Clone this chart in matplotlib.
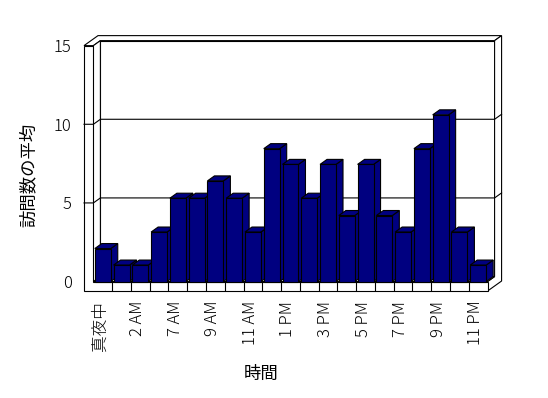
import matplotlib
matplotlib.use("Agg")
import matplotlib.pyplot as plt
from matplotlib.patches import Polygon
from matplotlib.transforms import ScaledTranslation

plt.rcParams['font.family'] = ['Noto Sans CJK JP', 'DejaVu Sans']
plt.rcParams['font.weight'] = 'light'

# data
hours = ['真夜中', '1 AM', '2 AM', '6 AM', '7 AM', '8 AM', '9 AM', '10 AM',
         '11 AM', '12 PM', '1 PM', '2 PM', '3 PM', '4 PM', '5 PM', '6 PM',
         '7 PM', '8 PM', '9 PM', '10 PM', '11 PM']
visits = [2.1, 1.05, 1.05, 3.15, 5.3, 5.3, 6.4, 5.3, 3.15, 8.45, 7.45, 5.3,
          7.45, 4.2, 7.45, 4.2, 3.15, 8.45, 10.6, 3.15, 1.05]
yticks = [0, 5, 10, 15]

NAVY = '#000080'
DX, DY = 0.373, 0.318      # depth offset of one "row", in data units
YMAX = 15
FLOOR = -0.6
LW = 0.8

n = len(hours)
xs = list(range(n))
right = n - 0.5


def proj(x, y, z):
    return (x + z * DX, y + z * DY)


def face(ax, pts, fc='white', z=1):
    ax.add_patch(Polygon([proj(*p) for p in pts], closed=True, fc=fc,
                         ec='black', lw=LW, zorder=z, clip_on=False,
                         joinstyle='miter'))


fig = plt.figure(figsize=(5.48, 3.98), dpi=100)
ax = fig.add_axes([0.1533, 0.2688, 0.762, 0.6417])
ax.set_xlim(-1, right + 2 * DX)
ax.set_ylim(FLOOR, YMAX + 2 * DY)

# back wall, front face (depth 1)
face(ax, [(-0.5, 0, 1), (right, 0, 1), (right, YMAX, 1), (-0.5, YMAX, 1)])
# top of walls
face(ax, [(-1, YMAX, 0), (-0.5, YMAX, 0), (-0.5, YMAX, 1), (right, YMAX, 1),
          (right, YMAX, 2), (-1, YMAX, 2)])
# right side of back wall + floor
face(ax, [(right, FLOOR, 0), (right, 0, 0), (right, 0, 1), (right, YMAX, 1),
          (right, YMAX, 2), (right, FLOOR, 2)])
# inner face of left wall
face(ax, [(-0.5, 0, 0), (-0.5, 0, 1), (-0.5, YMAX, 1), (-0.5, YMAX, 0)])
# floor top
face(ax, [(-0.5, 0, 0), (right, 0, 0), (right, 0, 1), (-0.5, 0, 1)])
# front of left wall + floor
face(ax, [(-1, FLOOR, 0), (right, FLOOR, 0), (right, 0, 0), (-0.5, 0, 0),
          (-0.5, YMAX, 0), (-1, YMAX, 0)])

# gridlines and ticks on the walls
for v in yticks[1:-1]:
    pts = [proj(-1, v, 0), proj(-0.5, v, 0), proj(-0.5, v, 1), proj(right, v, 1),
           proj(right, v, 2)]
    ax.plot([p[0] for p in pts], [p[1] for p in pts], color='black', lw=LW,
            zorder=2, clip_on=False)

# category dividers on floor front
for i in range(n - 1):
    ax.plot([i + 0.5, i + 0.5], [FLOOR, 0], color='black', lw=LW, zorder=2)

# bars
w = 0.85
for x, v in zip(xs, visits):
    x0, x1 = x - w / 2, x + w / 2
    face(ax, [(x1, 0, 0), (x1, 0, 1), (x1, v, 1), (x1, v, 0)], fc=NAVY, z=9)
    face(ax, [(x0, v, 0), (x1, v, 0), (x1, v, 1), (x0, v, 1)], fc=NAVY, z=9)
ax.bar(xs, visits, width=w, color=NAVY, edgecolor='black', lw=LW, zorder=10)

for s in ax.spines.values():
    s.set_visible(False)
ax.set_yticks(yticks)
ax.set_xticks(xs[::2])
ax.set_xticklabels(hours[::2], rotation=90)
ax.tick_params(axis='both', length=0, labelsize=12)
ax.tick_params(axis='y', pad=9)
ax.tick_params(axis='x', pad=7)
shift = ScaledTranslation(-2.5 / 100, 0, fig.dpi_scale_trans)
for lab in ax.get_xticklabels():
    lab.set_transform(lab.get_transform() + shift)

ax.set_ylabel('訪問数の平均', fontsize=12.5)
ax.yaxis.set_label_coords(-0.112, 0.455)
ax.set_xlabel('時間', fontsize=12.5)
ax.xaxis.set_label_coords(0.4234, -0.29)

fig.savefig('out.png', dpi=100)
